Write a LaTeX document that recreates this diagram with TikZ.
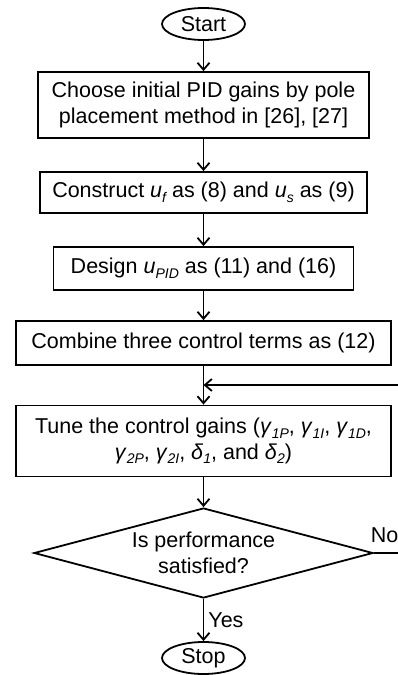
\documentclass[tikz,border=0pt]{standalone}
\usepackage{fontspec}
\setmainfont{Liberation Sans}
\usetikzlibrary{shapes,arrows,arrows.meta,positioning}

\newcommand{\lowidx}[1]{\raisebox{-0.22em}{\fontsize{14}{14}\selectfont\itshape #1}}

\begin{document}
\begin{tikzpicture}[
                x=1pt,
                y=-1pt,
                every node/.style={font=\fontsize{21.5}{25.5}\selectfont},
                stepbox/.style={draw, line width=1.8pt, align=center, inner sep=0pt},
                endpoint/.style={draw, ellipse, line width=1.8pt, inner sep=0pt,
                    minimum width=83pt, minimum height=32pt},
                decision/.style={draw, diamond, aspect=3.77, line width=1.8pt,
                    align=center, inner sep=0pt, minimum width=339pt, minimum height=90pt},
                flow/.style={-{Straight Barb[length=7pt,width=12pt]}, line width=1.8pt}
            ]
                \useasboundingbox (0,0) rectangle (398,675);

                % boxes
                \node[endpoint] (start) at (203.5,24) {Start};
                \node[
                    stepbox,
                    minimum width=331pt,
                    minimum height=66pt
                    ] (choose) at (203.5,105) {Choose initial PID gains by pole\\placement method in [26], [27]};
                \node[
                    stepbox,
                    minimum width=327pt,
                    minimum height=41pt
                    ] (construct) at (203.5,192.5) {Construct \textit{u}\lowidx{f} as (8) and \textit{u}\lowidx{s} as (9)};
                \node[
                    stepbox,
                    minimum width=300pt,
                    minimum height=43pt
                    ] (design) at (203.5,268.5) {Design \textit{u}\lowidx{PID} as (11) and (16)};
                \node[
                    stepbox,
                    minimum width=375pt,
                    minimum height=44pt
                    ] (combine) at (203.5,343) {Combine three control terms as (12)};
                \node[
                    stepbox,
                    minimum width=375pt,
                    minimum height=71pt
                    ] (tune) at (203.5,441) {Tune the control gains (\textit{γ}\lowidx{1P}, \textit{γ}\lowidx{1I}, \textit{γ}\lowidx{1D},\\\textit{γ}\lowidx{2P}, \textit{γ}\lowidx{2I}, \textit{δ}\lowidx{1}, and \textit{δ}\lowidx{2})};
                \node[decision] (check) at (203.5,553) {Is performance\\satisfied?};
                \node[endpoint] (stop) at (203.5,658) {Stop};

                \coordinate (loopturn) at (402,553);
                \coordinate (rejoin) at (203.5,385);

                % arrows
                \draw[flow] (start) -- (choose);
                \draw[flow] (choose) -- (construct);
                \draw[flow] (construct) -- (design);
                \draw[flow] (design) -- (combine);
                \draw[flow] (combine) -- (tune);
                \draw[flow] (tune) -- (check);
                \draw[flow] (check) -- node[right, inner sep=4pt] {Yes} (stop);
                \draw[flow] (check.east) -- node[pos=0, anchor=south west, inner sep=0pt, xshift=-4pt, yshift=9pt] {No} (loopturn) |- (rejoin);

            \end{tikzpicture}
\end{document}
